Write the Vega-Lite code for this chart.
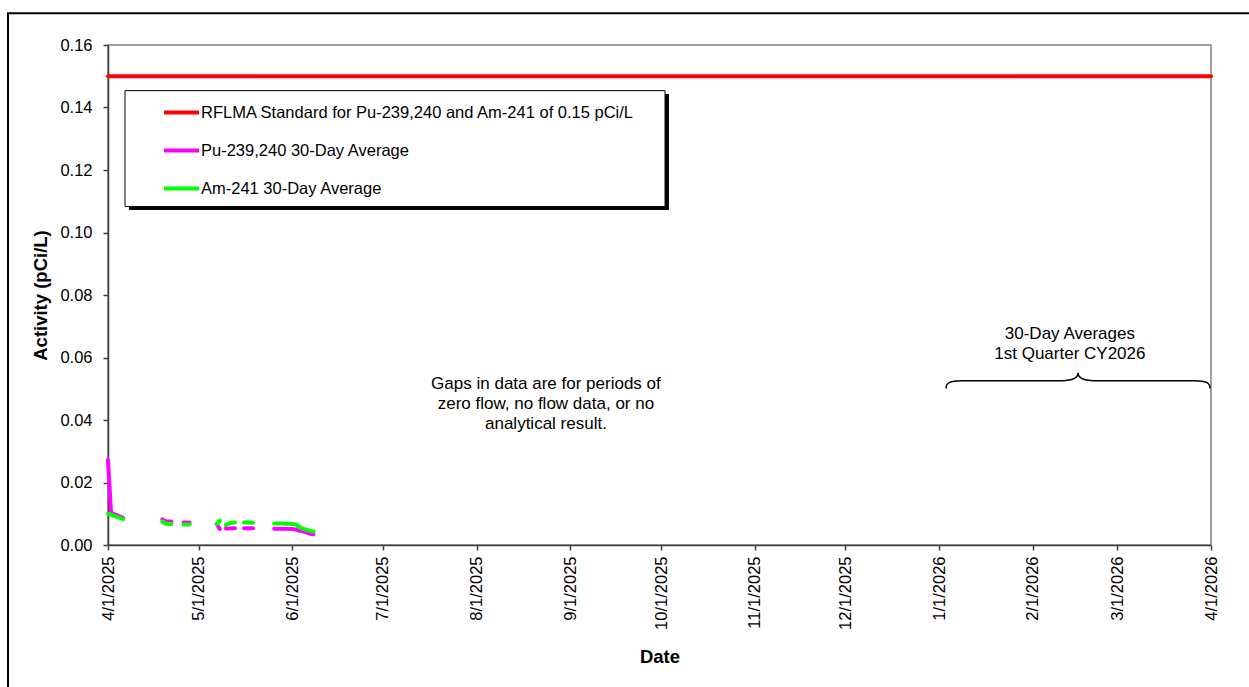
{
  "$schema": "https://vega.github.io/schema/vega-lite/v6.json",
  "width": 1103,
  "height": 500,
  "autosize": {"type": "none"},
  "padding": {"left": 108, "top": 45, "right": 38, "bottom": 142},
  "background": "white",
  "config": {
    "font": "Liberation Sans",
    "view": {"stroke": "#808080", "strokeWidth": 1.5},
    "axis": {
      "labelFont": "Liberation Sans",
      "titleFont": "Liberation Sans",
      "labelColor": "black",
      "titleColor": "black",
      "domainColor": "#404040",
      "tickColor": "#404040",
      "domainWidth": 1.5,
      "tickWidth": 1.5,
      "grid": false,
      "labelFontSize": 16.5,
      "titleFontSize": 18.5,
      "titleFontWeight": "bold"
    }
  },
  "datasets": {
    "activity": [
      {"date": "2025-04-01", "series": "RFLMA Standard for Pu-239,240 and Am-241 of 0.15 pCi/L", "value": 0.15},
      {"date": "2026-04-01", "series": "RFLMA Standard for Pu-239,240 and Am-241 of 0.15 pCi/L", "value": 0.15},
      {"date": "2025-04-01", "series": "Pu-239,240 30-Day Average", "value": 0.0272},
      {"date": "2025-04-02", "series": "Pu-239,240 30-Day Average", "value": 0.0103},
      {"date": "2025-04-03", "series": "Pu-239,240 30-Day Average", "value": 0.0099},
      {"date": "2025-04-04", "series": "Pu-239,240 30-Day Average", "value": 0.0095},
      {"date": "2025-04-05", "series": "Pu-239,240 30-Day Average", "value": 0.0091},
      {"date": "2025-04-06", "series": "Pu-239,240 30-Day Average", "value": 0.0087},
      {"date": "2025-04-07", "series": "Pu-239,240 30-Day Average", "value": null},
      {"date": "2025-04-19", "series": "Pu-239,240 30-Day Average", "value": 0.0082},
      {"date": "2025-04-20", "series": "Pu-239,240 30-Day Average", "value": 0.0076},
      {"date": "2025-04-21", "series": "Pu-239,240 30-Day Average", "value": 0.0075},
      {"date": "2025-04-22", "series": "Pu-239,240 30-Day Average", "value": 0.0075},
      {"date": "2025-04-23", "series": "Pu-239,240 30-Day Average", "value": null},
      {"date": "2025-04-26", "series": "Pu-239,240 30-Day Average", "value": 0.0072},
      {"date": "2025-04-27", "series": "Pu-239,240 30-Day Average", "value": 0.0072},
      {"date": "2025-04-28", "series": "Pu-239,240 30-Day Average", "value": 0.0072},
      {"date": "2025-04-29", "series": "Pu-239,240 30-Day Average", "value": null},
      {"date": "2025-05-07", "series": "Pu-239,240 30-Day Average", "value": 0.0067},
      {"date": "2025-05-08", "series": "Pu-239,240 30-Day Average", "value": 0.0051},
      {"date": "2025-05-09", "series": "Pu-239,240 30-Day Average", "value": null},
      {"date": "2025-05-10", "series": "Pu-239,240 30-Day Average", "value": 0.0053},
      {"date": "2025-05-11", "series": "Pu-239,240 30-Day Average", "value": 0.0053},
      {"date": "2025-05-12", "series": "Pu-239,240 30-Day Average", "value": 0.0054},
      {"date": "2025-05-13", "series": "Pu-239,240 30-Day Average", "value": 0.0054},
      {"date": "2025-05-14", "series": "Pu-239,240 30-Day Average", "value": null},
      {"date": "2025-05-16", "series": "Pu-239,240 30-Day Average", "value": 0.0054},
      {"date": "2025-05-17", "series": "Pu-239,240 30-Day Average", "value": 0.0054},
      {"date": "2025-05-18", "series": "Pu-239,240 30-Day Average", "value": 0.0054},
      {"date": "2025-05-19", "series": "Pu-239,240 30-Day Average", "value": 0.0054},
      {"date": "2025-05-20", "series": "Pu-239,240 30-Day Average", "value": null},
      {"date": "2025-05-26", "series": "Pu-239,240 30-Day Average", "value": 0.0052},
      {"date": "2025-05-27", "series": "Pu-239,240 30-Day Average", "value": 0.0052},
      {"date": "2025-05-28", "series": "Pu-239,240 30-Day Average", "value": 0.0052},
      {"date": "2025-05-29", "series": "Pu-239,240 30-Day Average", "value": 0.0052},
      {"date": "2025-05-30", "series": "Pu-239,240 30-Day Average", "value": 0.0052},
      {"date": "2025-05-31", "series": "Pu-239,240 30-Day Average", "value": 0.0051},
      {"date": "2025-06-01", "series": "Pu-239,240 30-Day Average", "value": 0.0051},
      {"date": "2025-06-02", "series": "Pu-239,240 30-Day Average", "value": 0.0050},
      {"date": "2025-06-03", "series": "Pu-239,240 30-Day Average", "value": 0.0047},
      {"date": "2025-06-04", "series": "Pu-239,240 30-Day Average", "value": 0.0045},
      {"date": "2025-06-05", "series": "Pu-239,240 30-Day Average", "value": 0.0042},
      {"date": "2025-06-06", "series": "Pu-239,240 30-Day Average", "value": 0.0039},
      {"date": "2025-06-07", "series": "Pu-239,240 30-Day Average", "value": 0.0036},
      {"date": "2025-06-08", "series": "Pu-239,240 30-Day Average", "value": 0.0034},
      {"date": "2025-04-01", "series": "Am-241 30-Day Average", "value": 0.0100},
      {"date": "2025-04-02", "series": "Am-241 30-Day Average", "value": 0.0097},
      {"date": "2025-04-03", "series": "Am-241 30-Day Average", "value": 0.0093},
      {"date": "2025-04-04", "series": "Am-241 30-Day Average", "value": 0.0090},
      {"date": "2025-04-05", "series": "Am-241 30-Day Average", "value": 0.0087},
      {"date": "2025-04-06", "series": "Am-241 30-Day Average", "value": 0.0083},
      {"date": "2025-04-07", "series": "Am-241 30-Day Average", "value": null},
      {"date": "2025-04-19", "series": "Am-241 30-Day Average", "value": 0.0075},
      {"date": "2025-04-20", "series": "Am-241 30-Day Average", "value": 0.0069},
      {"date": "2025-04-21", "series": "Am-241 30-Day Average", "value": 0.0067},
      {"date": "2025-04-22", "series": "Am-241 30-Day Average", "value": 0.0067},
      {"date": "2025-04-23", "series": "Am-241 30-Day Average", "value": null},
      {"date": "2025-04-26", "series": "Am-241 30-Day Average", "value": 0.0066},
      {"date": "2025-04-27", "series": "Am-241 30-Day Average", "value": 0.0066},
      {"date": "2025-04-28", "series": "Am-241 30-Day Average", "value": 0.0066},
      {"date": "2025-04-29", "series": "Am-241 30-Day Average", "value": null},
      {"date": "2025-05-07", "series": "Am-241 30-Day Average", "value": 0.0067},
      {"date": "2025-05-08", "series": "Am-241 30-Day Average", "value": 0.0078},
      {"date": "2025-05-09", "series": "Am-241 30-Day Average", "value": null},
      {"date": "2025-05-10", "series": "Am-241 30-Day Average", "value": 0.0064},
      {"date": "2025-05-11", "series": "Am-241 30-Day Average", "value": 0.0069},
      {"date": "2025-05-12", "series": "Am-241 30-Day Average", "value": 0.0071},
      {"date": "2025-05-13", "series": "Am-241 30-Day Average", "value": 0.0072},
      {"date": "2025-05-14", "series": "Am-241 30-Day Average", "value": null},
      {"date": "2025-05-16", "series": "Am-241 30-Day Average", "value": 0.0072},
      {"date": "2025-05-17", "series": "Am-241 30-Day Average", "value": 0.0072},
      {"date": "2025-05-18", "series": "Am-241 30-Day Average", "value": 0.0071},
      {"date": "2025-05-19", "series": "Am-241 30-Day Average", "value": 0.0071},
      {"date": "2025-05-20", "series": "Am-241 30-Day Average", "value": null},
      {"date": "2025-05-26", "series": "Am-241 30-Day Average", "value": 0.0069},
      {"date": "2025-05-27", "series": "Am-241 30-Day Average", "value": 0.0069},
      {"date": "2025-05-28", "series": "Am-241 30-Day Average", "value": 0.0069},
      {"date": "2025-05-29", "series": "Am-241 30-Day Average", "value": 0.0069},
      {"date": "2025-05-30", "series": "Am-241 30-Day Average", "value": 0.0068},
      {"date": "2025-05-31", "series": "Am-241 30-Day Average", "value": 0.0068},
      {"date": "2025-06-01", "series": "Am-241 30-Day Average", "value": 0.0067},
      {"date": "2025-06-02", "series": "Am-241 30-Day Average", "value": 0.0066},
      {"date": "2025-06-03", "series": "Am-241 30-Day Average", "value": 0.0060},
      {"date": "2025-06-04", "series": "Am-241 30-Day Average", "value": 0.0054},
      {"date": "2025-06-05", "series": "Am-241 30-Day Average", "value": 0.0051},
      {"date": "2025-06-06", "series": "Am-241 30-Day Average", "value": 0.0048},
      {"date": "2025-06-07", "series": "Am-241 30-Day Average", "value": 0.0045},
      {"date": "2025-06-08", "series": "Am-241 30-Day Average", "value": 0.0043}
    ]
  },
  "layer": [
    {
      "data": {"values": [{}]},
      "mark": {"type": "rect", "filled": false, "stroke": "black", "strokeWidth": 2, "clip": false},
      "encoding": {
        "x": {"datum": {"year": 2025, "month": 2, "date": 26, "hours": 22, "utc": true}, "type": "temporal", "scale": {"type": "utc", "nice": false, "domain": [{"year": 2025, "month": 4, "date": 1, "utc": true}, {"year": 2026, "month": 4, "date": 1, "utc": true}]}},
        "x2": {"datum": {"year": 2026, "month": 5, "date": 15, "utc": true}},
        "y": {"datum": 0.1702, "type": "quantitative", "scale": {"domain": [0, 0.16], "nice": false, "zero": false}},
        "y2": {"datum": -0.06}
      }
    },
    {
      "data": {"values": [{}]},
      "mark": {"type": "rect", "fill": "black", "stroke": null},
      "encoding": {
        "x": {"datum": {"year": 2025, "month": 4, "date": 7, "hours": 23, "utc": true}, "type": "temporal", "scale": {"type": "utc", "nice": false, "domain": [{"year": 2025, "month": 4, "date": 1, "utc": true}, {"year": 2026, "month": 4, "date": 1, "utc": true}]}},
        "x2": {"datum": {"year": 2025, "month": 10, "date": 3, "hours": 15, "utc": true}},
        "y": {"datum": 0.1443, "type": "quantitative", "scale": {"domain": [0, 0.16], "nice": false, "zero": false}},
        "y2": {"datum": 0.1072}
      }
    },
    {
      "data": {"values": [{}]},
      "mark": {"type": "rect", "fill": "white", "stroke": "black", "strokeWidth": 1},
      "encoding": {
        "x": {"datum": {"year": 2025, "month": 4, "date": 6, "hours": 15, "utc": true}, "type": "temporal", "scale": {"type": "utc", "nice": false, "domain": [{"year": 2025, "month": 4, "date": 1, "utc": true}, {"year": 2026, "month": 4, "date": 1, "utc": true}]}},
        "x2": {"datum": {"year": 2025, "month": 10, "date": 2, "hours": 8, "utc": true}},
        "y": {"datum": 0.1454, "type": "quantitative", "scale": {"domain": [0, 0.16], "nice": false, "zero": false}},
        "y2": {"datum": 0.1083}
      }
    },
    {
      "data": {"name": "activity"},
      "mark": {"type": "line", "strokeWidth": 4, "strokeCap": "round", "strokeJoin": "round", "invalid": "break-paths-show-domains"},
      "encoding": {
        "x": {
          "field": "date", "type": "temporal",
          "scale": {"type": "utc", "nice": false, "domain": [{"year": 2025, "month": 4, "date": 1, "utc": true}, {"year": 2026, "month": 4, "date": 1, "utc": true}]},
          "axis": {
            "title": "Date",
            "format": "%-m/%-d/%Y",
            "values": [
              {"year": 2025, "month": 4, "date": 1, "utc": true},
              {"year": 2025, "month": 5, "date": 1, "utc": true},
              {"year": 2025, "month": 6, "date": 1, "utc": true},
              {"year": 2025, "month": 7, "date": 1, "utc": true},
              {"year": 2025, "month": 8, "date": 1, "utc": true},
              {"year": 2025, "month": 9, "date": 1, "utc": true},
              {"year": 2025, "month": 10, "date": 1, "utc": true},
              {"year": 2025, "month": 11, "date": 1, "utc": true},
              {"year": 2025, "month": 12, "date": 1, "utc": true},
              {"year": 2026, "month": 1, "date": 1, "utc": true},
              {"year": 2026, "month": 2, "date": 1, "utc": true},
              {"year": 2026, "month": 3, "date": 1, "utc": true},
              {"year": 2026, "month": 4, "date": 1, "utc": true}
            ],
            "labelAngle": -90,
            "labelAlign": "right",
            "labelBaseline": "middle",
            "labelOverlap": false,
            "labelFlush": false,
            "tickSize": 5,
            "labelPadding": 6,
            "titlePadding": 18
          }
        },
        "y": {
          "field": "value", "type": "quantitative",
          "scale": {"domain": [0, 0.16], "nice": false, "zero": false},
          "axis": {
            "title": "Activity (pCi/L)",
            "values": [0, 0.02, 0.04, 0.06, 0.08, 0.1, 0.12, 0.14, 0.16],
            "format": ".2f",
            "tickSize": 5,
            "labelPadding": 11,
            "titlePadding": 9,
            "labelFlush": false
          }
        },
        "color": {
          "field": "series", "type": "nominal",
          "scale": {
            "domain": ["RFLMA Standard for Pu-239,240 and Am-241 of 0.15 pCi/L", "Pu-239,240 30-Day Average", "Am-241 30-Day Average"],
            "range": ["#FF0000", "#FF00FF", "#00FF00"]
          },
          "legend": {
            "orient": "none",
            "legendX": 54,
            "legendY": 48,
            "title": null,
            "direction": "vertical",
            "symbolType": "stroke",
            "symbolSize": 1225,
            "symbolStrokeWidth": 4,
            "labelFont": "Liberation Sans",
            "labelFontSize": 16.5,
            "labelColor": "black",
            "labelOffset": 0,
            "labelLimit": 700,
            "rowPadding": 10,
            "padding": 0
          }
        }
      }
    },
    {
      "data": {"values": [{}]},
      "mark": {"type": "text", "text": ["Gaps in data are for periods of", "zero flow, no flow data, or no", "analytical result."], "font": "Liberation Sans", "fontSize": 17, "lineHeight": 20, "align": "center", "baseline": "middle", "color": "black"},
      "encoding": {
        "x": {"datum": {"year": 2025, "month": 8, "date": 23, "hours": 22, "utc": true}, "type": "temporal", "scale": {"type": "utc", "nice": false, "domain": [{"year": 2025, "month": 4, "date": 1, "utc": true}, {"year": 2026, "month": 4, "date": 1, "utc": true}]}},
        "y": {"datum": 0.0515, "type": "quantitative", "scale": {"domain": [0, 0.16], "nice": false, "zero": false}}
      }
    },
    {
      "data": {"values": [{}]},
      "mark": {"type": "text", "text": ["30-Day Averages", "1st Quarter CY2026"], "font": "Liberation Sans", "fontSize": 17, "lineHeight": 20, "align": "center", "baseline": "middle", "color": "black"},
      "encoding": {
        "x": {"datum": {"year": 2026, "month": 2, "date": 13, "hours": 7, "utc": true}, "type": "temporal", "scale": {"type": "utc", "nice": false, "domain": [{"year": 2025, "month": 4, "date": 1, "utc": true}, {"year": 2026, "month": 4, "date": 1, "utc": true}]}},
        "y": {"datum": 0.0675, "type": "quantitative", "scale": {"domain": [0, 0.16], "nice": false, "zero": false}}
      }
    },
    {
      "data": {"values": [{}]},
      "mark": {"type": "point", "shape": "M -1 0.059 C -1 0.015 -0.97 0 -0.88 0 L -0.12 0 C -0.04 0 0 -0.02 0 -0.059 C 0 -0.02 0.04 0 0.12 0 L 0.88 0 C 0.97 0 1 0.015 1 0.059", "size": 69696, "filled": false, "stroke": "black", "strokeWidth": 1.5, "opacity": 1},
      "encoding": {
        "x": {"datum": {"year": 2026, "month": 2, "date": 16, "utc": true}, "type": "temporal", "scale": {"type": "utc", "nice": false, "domain": [{"year": 2025, "month": 4, "date": 1, "utc": true}, {"year": 2026, "month": 4, "date": 1, "utc": true}]}},
        "y": {"datum": 0.0526, "type": "quantitative", "scale": {"domain": [0, 0.16], "nice": false, "zero": false}}
      }
    }
  ]
}
